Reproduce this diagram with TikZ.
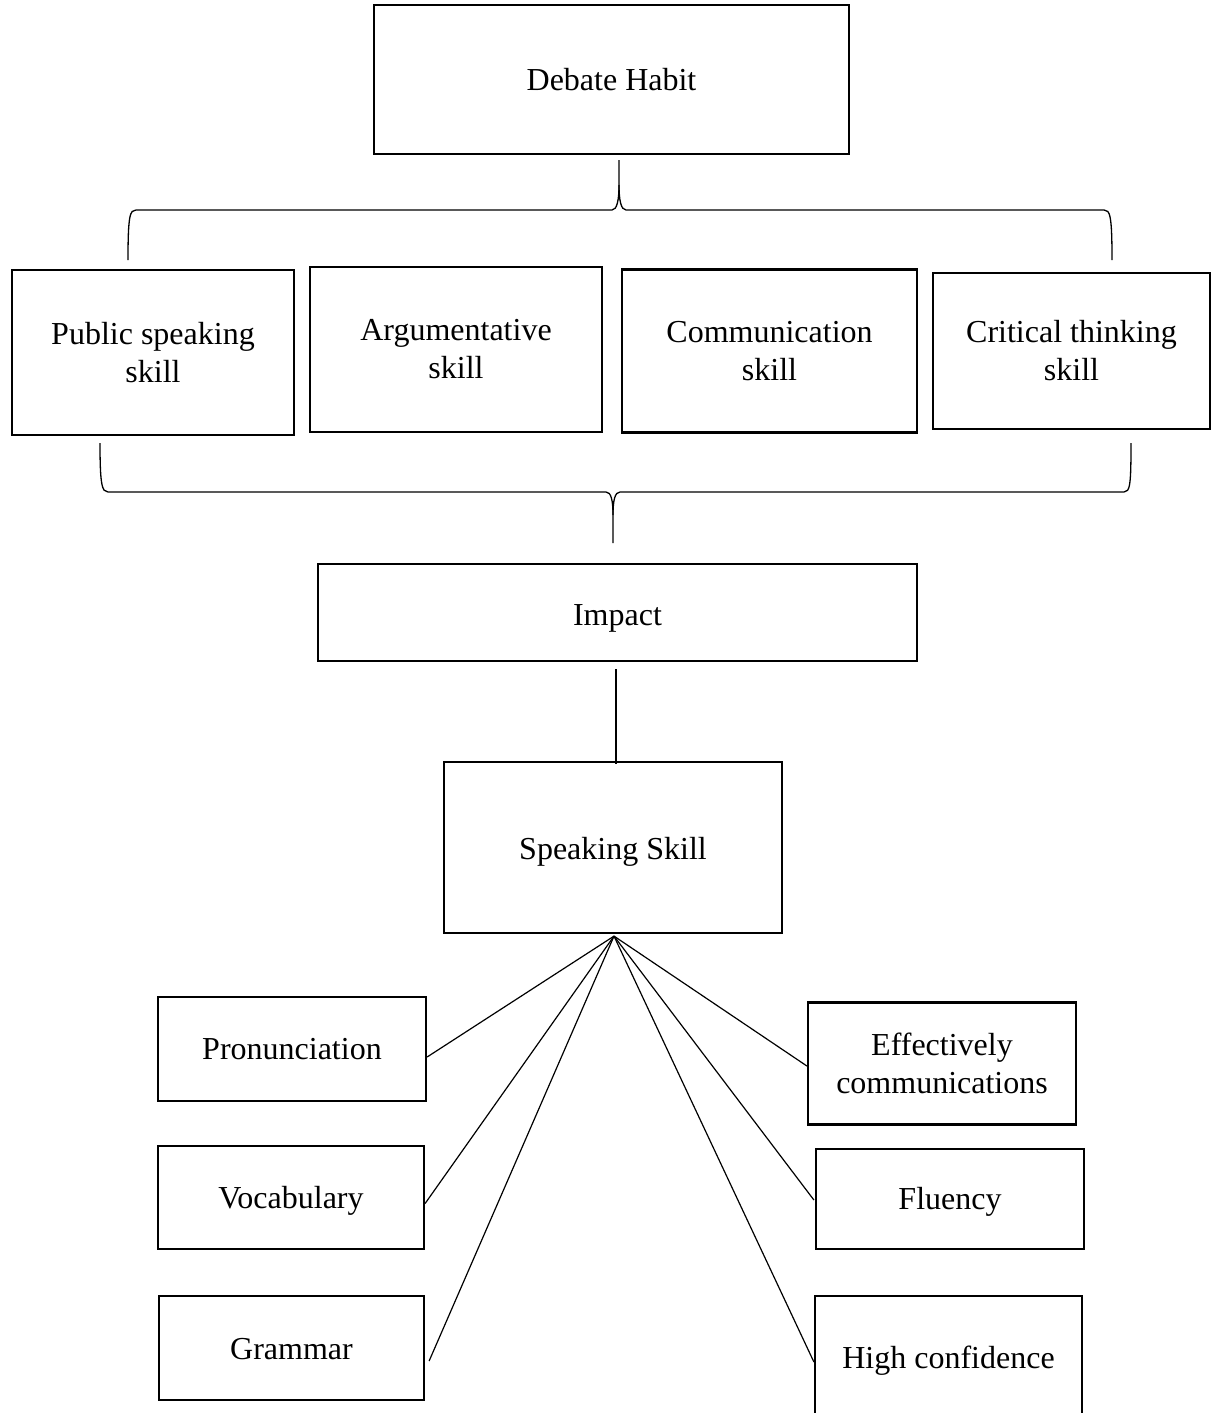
\documentclass[tikz,border=0pt]{standalone}
\usepackage{fontspec}
\setmainfont{Liberation Serif}
\begin{document}
\begin{tikzpicture}[x=1pt,y=-1pt,
  box/.style={draw, line width=2.2pt, align=center, inner sep=0pt,
    font=\fontsize{32}{38}\selectfont},
  tb/.style={text height=#1, text depth=7pt},
  conn/.style={line width=1.2pt},
  bracestyle/.style={line width=1.3pt}]
\useasboundingbox (0,0) rectangle (1214,1413);
\clip (0,0) rectangle (1214,1413);

% top node
\node[box, tb=28pt, minimum width=475pt, minimum height=149pt] (debate) at (611.5,79.5) {Debate Habit};

% second row
\node[box, minimum width=282pt, minimum height=165pt] (public) at (153,352.5) {Public speaking\\skill};
\node[box, minimum width=292pt, minimum height=165pt] (argue) at (456,349.5) {Argumentative\\skill};
\node[box, minimum width=295pt, minimum height=163pt] (comm) at (769.5,351) {Communication\\skill};
\node[box, minimum width=277pt, minimum height=156pt] (crit) at (1071.5,351) {Critical thinking\\skill};

% impact and speaking skill
\node[box, tb=32pt, minimum width=599pt, minimum height=97pt] (impact) at (617.5,612.5) {Impact};
\node[box, tb=30pt, minimum width=338pt, minimum height=171pt] (speak) at (613,847.5) {Speaking Skill};

% bottom left
\node[box, tb=27pt, minimum width=268pt, minimum height=104pt] (pron) at (292,1049) {Pronunciation};
\node[box, tb=28pt, minimum width=266pt, minimum height=103pt] (vocab) at (291,1197.5) {Vocabulary};
\node[box, tb=29pt, minimum width=265pt, minimum height=104pt] (gram) at (291.5,1348) {Grammar};

% bottom right
\node[box, minimum width=268pt, minimum height=122pt] (eff) at (942,1063.5) {Effectively\\communications};
\node[box, tb=27pt, minimum width=268pt, minimum height=100pt] (flu) at (950,1199) {Fluency};
\node[box, tb=27pt, minimum width=267pt, minimum height=124pt] (conf) at (948.5,1358) {High confidence};

% top brace (Debate Habit -> skills)
\draw[bracestyle] (128,260) .. controls (128,215) and (130,210) .. (136,210) -- (612,210)
  .. controls (617,210) and (619,200) .. (619,185) -- (619,160);
\draw[bracestyle] (619,185) .. controls (619,200) and (621,210) .. (626,210) -- (1104,210)
  .. controls (1110,210) and (1112,215) .. (1112,260);

% bottom brace (skills -> Impact)
\draw[bracestyle] (100,443) .. controls (100,485) and (102,492) .. (108,492) -- (606,492)
  .. controls (611,492) and (613,500) .. (613,515) -- (613,543);
\draw[bracestyle] (613,515) .. controls (613,500) and (615,492) .. (620,492) -- (1124,492)
  .. controls (1130,492) and (1131,485) .. (1131,443);

% impact -> speaking skill
\draw[conn] ([xshift=-1.5pt,yshift=-7pt]impact.south) -- ([xshift=3pt,yshift=-3pt]speak.north);

% fan from speaking skill
\coordinate (apex) at ([xshift=1pt,yshift=-2pt]speak.south);
\draw[conn] (apex) -- ([yshift=-8pt]pron.east);
\draw[conn] (apex) -- ([yshift=-6pt]vocab.east);
\draw[conn] (apex) -- ([xshift=4pt,yshift=-13pt]gram.east);
\draw[conn] (apex) -- ([yshift=-2.5pt]eff.west);
\draw[conn] (apex) -- ([xshift=-1pt,yshift=-1pt]flu.west);
\draw[conn] (apex) -- ([yshift=-4pt]conf.west);
\end{tikzpicture}
\end{document}
